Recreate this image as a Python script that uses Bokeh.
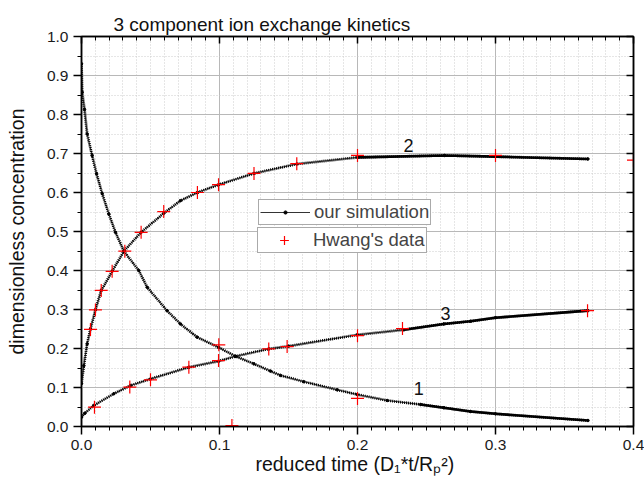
from bokeh.plotting import figure
from bokeh.models import (Range1d, LinearAxis, SingleIntervalTicker, PrintfTickFormatter,
                          Legend, LegendItem, CustomLabelingPolicy)
from bokeh.core.properties import value
from bokeh.embed import file_html
from bokeh.resources import INLINE

# ---------------- data ----------------
# simulation curve 1
t1 = [0.0, 0.0005, 0.0022, 0.0041, 0.0077, 0.0109, 0.015, 0.0198, 0.0246, 0.0307,
      0.0415, 0.0476, 0.062, 0.0717, 0.0838, 0.0993, 0.1116, 0.1249, 0.137, 0.1442,
      0.161, 0.1853, 0.1998, 0.2215, 0.2457, 0.2626, 0.2819, 0.3, 0.367]
c1 = [0.93, 0.857, 0.813, 0.75, 0.695, 0.648, 0.597, 0.545, 0.498, 0.4495,
      0.40, 0.357, 0.297, 0.263, 0.229, 0.203, 0.18, 0.1607, 0.142, 0.131,
      0.115, 0.094, 0.082, 0.0667, 0.0564, 0.048, 0.0385, 0.0325, 0.0154]
# simulation curve 2
t2 = [0.0, 0.0017, 0.0041, 0.0065, 0.0101, 0.0143, 0.0222, 0.0307, 0.0432, 0.0597,
      0.0717, 0.084, 0.0993, 0.125, 0.156, 0.2, 0.263, 0.3, 0.367]
c2 = [0.11, 0.156, 0.212, 0.25, 0.299, 0.349, 0.398, 0.4495, 0.498, 0.547,
      0.579, 0.60, 0.62, 0.649, 0.673, 0.69, 0.695, 0.692, 0.686]
# simulation curve 3
t3 = [0.0, 0.0024, 0.0089, 0.0234, 0.0355, 0.05, 0.0778, 0.0993, 0.1116, 0.1357,
      0.150, 0.1998, 0.2336, 0.2626, 0.2819, 0.3, 0.367]
c3 = [0.024, 0.034, 0.054, 0.084, 0.105, 0.122, 0.152, 0.1675, 0.18, 0.199,
      0.206, 0.235, 0.248, 0.263, 0.27, 0.279, 0.297]

# Hwang's data
hw_t = [0.0065, 0.0101, 0.0143, 0.0222, 0.0314, 0.0432, 0.0596, 0.084, 0.0993, 0.125,
        0.156, 0.2, 0.3, 0.4, 0.0094, 0.035, 0.05, 0.0778, 0.0993, 0.1357,
        0.149, 0.2, 0.2326, 0.3667, 0.0995, 0.109, 0.2]
hw_c = [0.249, 0.299, 0.349, 0.398, 0.4495, 0.498, 0.551, 0.60, 0.62, 0.649,
        0.674, 0.695, 0.695, 0.683, 0.0496, 0.101, 0.1197, 0.152, 0.169, 0.199,
        0.205, 0.233, 0.251, 0.297, 0.2094, 0.0026, 0.072]

curve_names = ["1", "2", "3"]
name_t = [0.2444, 0.237, 0.2638]
name_c = [0.0966, 0.72, 0.29]

title_text = "3 component ion exchange kinetics"
x_label = "reduced time  (D\u2081*t/R\u209a\u00b2)"
y_label = "dimensionless concentration"

solid_from = 0.262  # simulation points become dense enough to look solid

FONT = "Liberation Sans"

p = figure(width=644, height=479, x_range=Range1d(0, 0.4), y_range=Range1d(0, 1.0),
           output_backend="svg", toolbar_location=None,
           min_border_left=81, min_border_right=11, min_border_top=36, min_border_bottom=53,
           background_fill_color="white", border_fill_color="white")

p.outline_line_color = "black"
p.outline_line_width = 1.5

# title
p.title.text = title_text
p.title.text_font = FONT
p.title.text_font_size = "19px"
p.title.text_font_style = "normal"
p.title.text_color = "#111111"
p.title.align = "left"
p.title.offset = 32
p.title.standoff = 4

xt = SingleIntervalTicker(interval=0.1, num_minor_ticks=10)
yt = SingleIntervalTicker(interval=0.1, num_minor_ticks=2)

xa = p.xaxis[0]
xa.ticker = xt
xa.formatter = PrintfTickFormatter(format="%.1f")
xa.axis_label = x_label
ya = p.yaxis[0]
ya.ticker = yt
ya.formatter = PrintfTickFormatter(format="%.1f")
ya.axis_label = y_label

for ax in (xa, ya):
    ax.axis_line_width = 1.5
    ax.major_tick_line_width = 1.5
    ax.minor_tick_line_width = 1
    ax.major_tick_out = 8
    ax.major_tick_in = 0
    ax.minor_tick_out = 4
    ax.minor_tick_in = 0
    ax.major_label_text_font = FONT
    ax.major_label_text_font_size = "15.5px"
    ax.major_label_text_color = "#1a1a1a"
    ax.axis_label_text_font = FONT
    ax.axis_label_text_font_size = "19.5px"
    ax.axis_label_text_font_style = "normal"
    ax.axis_label_text_color = "#111111"
xa.major_label_standoff = 5
xa.axis_label_standoff = 0
ya.major_label_standoff = 5
ya.axis_label_standoff = 16

# mirrored axes (ticks only, pointing inwards, no labels)
hide_all = "for (const i of indices) { indices.unset(i) }\nreturn indices"
top = LinearAxis(ticker=xt, major_label_text_font_size="0px", major_label_standoff=0,
                 major_label_policy=CustomLabelingPolicy(code=hide_all),
                 major_tick_in=7, major_tick_out=0, minor_tick_in=4, minor_tick_out=0,
                 axis_line_width=1.5, major_tick_line_width=1.5)
right = LinearAxis(ticker=yt, major_label_text_font_size="0px", major_label_standoff=0,
                   major_label_policy=CustomLabelingPolicy(code=hide_all),
                   major_tick_in=7, major_tick_out=0, minor_tick_in=4, minor_tick_out=0,
                   axis_line_width=1.5, major_tick_line_width=1.5)
p.add_layout(top, "above")
p.add_layout(right, "right")

# grids
for g in (p.xgrid[0], p.ygrid[0]):
    g.grid_line_color = "#b8b8b8"
    g.grid_line_width = 1
    g.minor_grid_line_color = "#cccccc"
    g.minor_grid_line_dash = "1 2"
    g.minor_grid_line_width = 1

# simulation curves
thin_r = None
dot_r = None
for t, c in ((t1, c1), (t2, c2), (t3, c3)):
    r_thin = p.line(t, c, line_color="black", line_width=0.8)
    p.line(t, c, line_color="black", line_width=2.8, line_dash="1 1")
    i0 = next(i for i, v in enumerate(t) if v >= solid_from)
    p.line(t[i0 - 1:], c[i0 - 1:], line_color="black", line_width=2.6)
    r_dot = p.scatter(t, c, marker="circle", size=2.5, color="black")
    if thin_r is None:
        thin_r, dot_r = r_thin, r_dot

hw_r = p.scatter(hw_t, hw_c, marker="cross", size=13, line_color="red", line_width=1.2)

p.text(x=name_t, y=name_c, text=curve_names, text_font=value(FONT),
       text_font_size=value("18px"), text_align="center", text_baseline="middle",
       text_color="#111111")

common = dict(border_line_color="#555555", border_line_width=1, background_fill_alpha=1,
              label_text_font=FONT, label_text_font_size="18.5px", glyph_width=50,
              label_height=16, label_standoff=4, padding=1, margin=0, spacing=0)
leg1 = Legend(items=[LegendItem(label="our simulation", renderers=[thin_r, dot_r])],
              location=(177, 201), glyph_height=8, **common)
leg2 = Legend(items=[LegendItem(label="Hwang's data", renderers=[hw_r])],
              location=(176, 173), glyph_height=22, **common)
p.add_layout(leg1)
p.add_layout(leg2)

open("out.html", "w").write(file_html(p, INLINE))
